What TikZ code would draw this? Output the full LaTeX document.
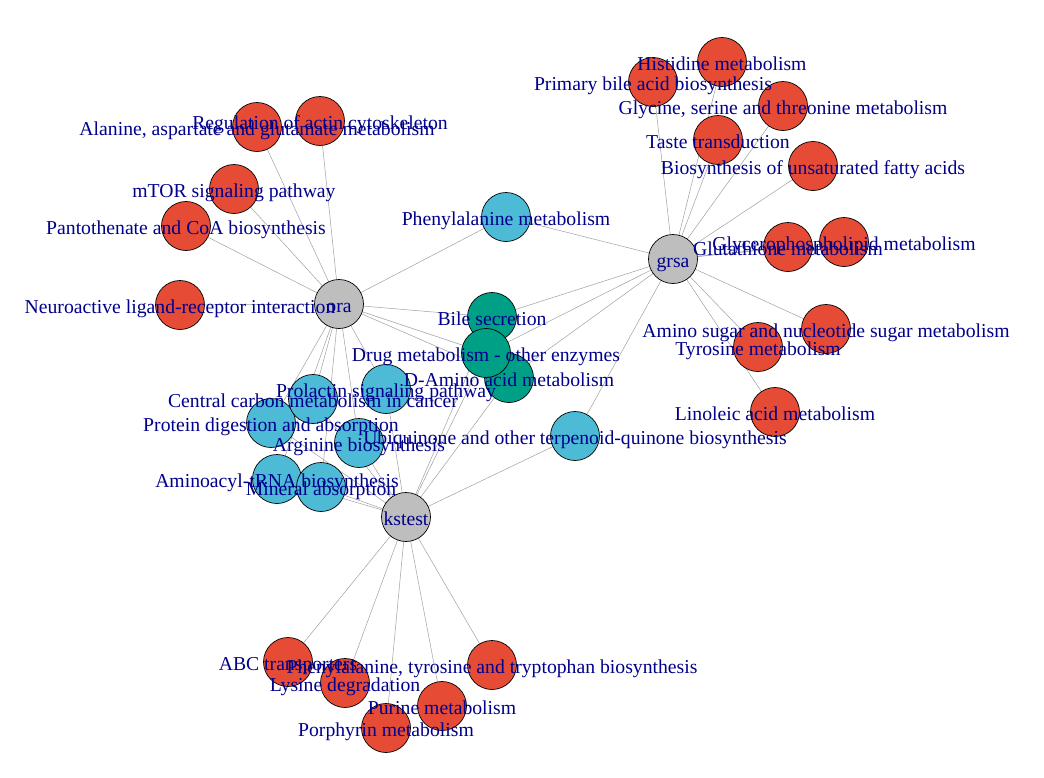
\documentclass[tikz,border=0pt]{standalone}
\usepackage{fontspec}
\setmainfont{Liberation Serif}
\definecolor{nred}{HTML}{E64B35}
\definecolor{ncyan}{HTML}{4DBBD5}
\definecolor{nteal}{HTML}{00A087}
\definecolor{hubgray}{HTML}{BEBEBE}
\definecolor{labblue}{HTML}{00008B}
\definecolor{edgegray}{HTML}{A0A0A0}
\pgfdeclarelayer{bg}
\pgfsetlayers{bg,main}
\tikzset{
  cat/.style={circle, minimum size=49pt, inner sep=0pt, draw=black, line width=0.7pt},
  hub/.style={cat, fill=hubgray},
  uniq/.style={cat, fill=nred},
  pairc/.style={cat, fill=ncyan},
  triple/.style={cat, fill=nteal},
  lab/.style={text=labblue, font=\fontsize{19.7}{22}\selectfont, inner sep=0pt, text height=13pt, text depth=4pt, yshift=-3.5pt},
  link/.style={draw=edgegray, line width=0.5pt}
}
\begin{document}
\begin{tikzpicture}[x=1pt,y=-1pt]
\useasboundingbox (0,0) rectangle (1044,777);
% hubs
\node[hub] (ora) at (339,304) {};
\node[hub] (grsa) at (673,259) {};
\node[hub] (kstest) at (406,517) {};
% ora-only
\node[uniq] (alanine) at (257,127) {};
\node[uniq] (regulation) at (320,121) {};
\node[uniq] (mtor) at (234,189) {};
\node[uniq] (pantothenate) at (186,226) {};
\node[uniq] (neuroactive) at (180,305) {};
% grsa-only
\node[uniq] (histidine) at (722,62) {};
\node[uniq] (primarybile) at (653,82) {};
\node[uniq] (glycine) at (783,106) {};
\node[uniq] (taste) at (718,140) {};
\node[uniq] (biosyn) at (813,166) {};
\node[uniq] (glutathione) at (788,247) {};
\node[uniq] (glycero) at (844,242) {};
\node[uniq] (aminosugar) at (826,329) {};
\node[uniq] (tyrosine) at (758,347) {};
\node[uniq] (linoleic) at (775,412) {};
% kstest-only
\node[uniq] (abc) at (288,662) {};
\node[uniq] (lysine) at (345,683) {};
\node[uniq] (phetyrtrp) at (492,665) {};
\node[uniq] (purine) at (442,706) {};
\node[uniq] (porphyrin) at (386,728) {};
% shared by two
\node[pairc] (phemet) at (506,217) {};
\node[pairc] (ubiquinone) at (575,436) {};
\node[pairc] (prolactin) at (386,389) {};
\node[pairc] (protein) at (271,423) {};
\node[pairc] (central) at (313,399) {};
\node[pairc] (arginine) at (359,443) {};
\node[pairc] (aminoacyl) at (277,479) {};
\node[pairc] (mineral) at (321,487) {};
% shared by three
\node[triple] (bile) at (492,317) {};
\node[triple] (damino) at (509,378) {};
\node[triple] (drug) at (486,353) {};
% edges
\begin{pgfonlayer}{bg}
\foreach \t in {alanine,regulation,mtor,pantothenate,neuroactive,phemet,bile,drug,damino,prolactin,central,protein,arginine,aminoacyl,mineral}
  \draw[link] (ora.center) -- (\t.center);
\foreach \t in {histidine,primarybile,glycine,taste,biosyn,glutathione,glycero,aminosugar,tyrosine,linoleic,phemet,bile,drug,damino,ubiquinone}
  \draw[link] (grsa.center) -- (\t.center);
\foreach \t in {abc,lysine,phetyrtrp,purine,porphyrin,ubiquinone,bile,drug,damino,prolactin,central,protein,arginine,aminoacyl,mineral}
  \draw[link] (kstest.center) -- (\t.center);
\end{pgfonlayer}
% labels
\node[lab] (ora-t) at (ora) {ora};
\node[lab] (grsa-t) at (grsa) {grsa};
\node[lab] (kstest-t) at (kstest) {kstest};
\node[lab] (alanine-t) at (alanine) {Alanine, aspartate and glutamate metabolism};
\node[lab] (regulation-t) at (regulation) {Regulation of actin cytoskeleton};
\node[lab] (mtor-t) at (mtor) {mTOR signaling pathway};
\node[lab] (pantothenate-t) at (pantothenate) {Pantothenate and CoA biosynthesis};
\node[lab] (neuroactive-t) at (neuroactive) {Neuroactive ligand-receptor interaction};
\node[lab] (histidine-t) at (histidine) {Histidine metabolism};
\node[lab] (primarybile-t) at (primarybile) {Primary bile acid biosynthesis};
\node[lab] (glycine-t) at (glycine) {Glycine, serine and threonine metabolism};
\node[lab] (taste-t) at (taste) {Taste transduction};
\node[lab] (biosyn-t) at (biosyn) {Biosynthesis of unsaturated fatty acids};
\node[lab] (glutathione-t) at (glutathione) {Glutathione metabolism};
\node[lab] (glycero-t) at (glycero) {Glycerophospholipid metabolism};
\node[lab] (aminosugar-t) at (aminosugar) {Amino sugar and nucleotide sugar metabolism};
\node[lab] (tyrosine-t) at (tyrosine) {Tyrosine metabolism};
\node[lab] (linoleic-t) at (linoleic) {Linoleic acid metabolism};
\node[lab] (abc-t) at (abc) {ABC transporters};
\node[lab] (lysine-t) at (lysine) {Lysine degradation};
\node[lab] (phetyrtrp-t) at (phetyrtrp) {Phenylalanine, tyrosine and tryptophan biosynthesis};
\node[lab] (purine-t) at (purine) {Purine metabolism};
\node[lab] (porphyrin-t) at (porphyrin) {Porphyrin metabolism};
\node[lab] (phemet-t) at (phemet) {Phenylalanine metabolism};
\node[lab] (ubiquinone-t) at (ubiquinone) {Ubiquinone and other terpenoid-quinone biosynthesis};
\node[lab] (prolactin-t) at (prolactin) {Prolactin signaling pathway};
\node[lab] (central-t) at (central) {Central carbon metabolism in cancer};
\node[lab] (protein-t) at (protein) {Protein digestion and absorption};
\node[lab] (arginine-t) at (arginine) {Arginine biosynthesis};
\node[lab] (aminoacyl-t) at (aminoacyl) {Aminoacyl-tRNA biosynthesis};
\node[lab] (mineral-t) at (mineral) {Mineral absorption};
\node[lab] (bile-t) at (bile) {Bile secretion};
\node[lab] (drug-t) at (drug) {Drug metabolism - other enzymes};
\node[lab] (damino-t) at (damino) {D-Amino acid metabolism};
\end{tikzpicture}
\end{document}
